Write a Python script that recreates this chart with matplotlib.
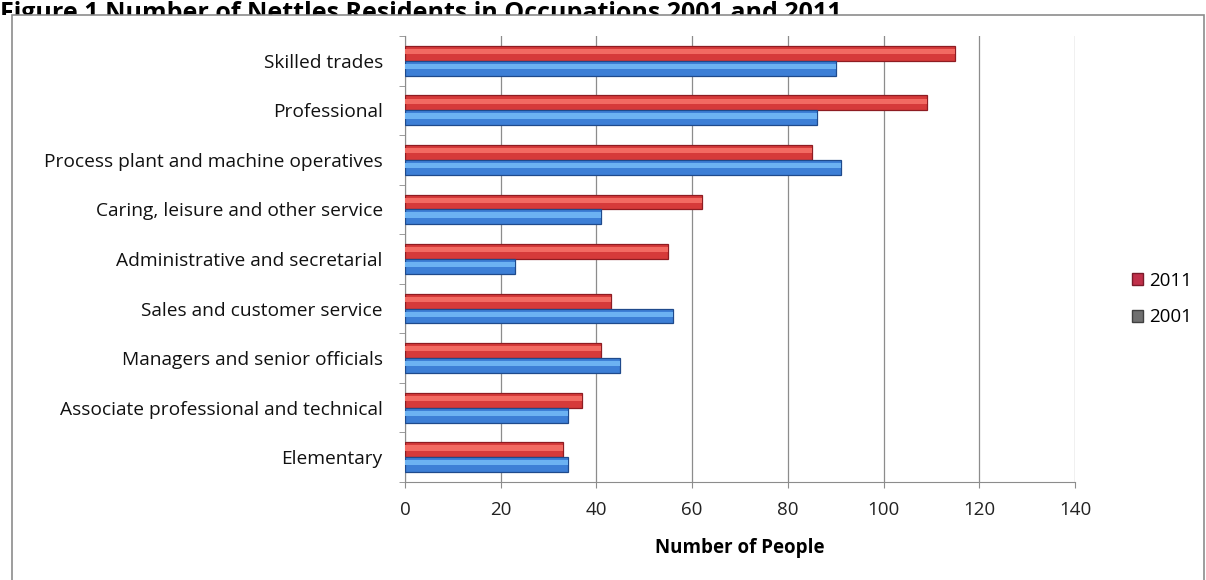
import numpy as np
from matplotlib import pyplot as plt
from matplotlib.patches import Rectangle, Patch

# Categories listed bottom to top
categories = ['Elementary',
              'Associate professional and technical',
              'Managers and senior officials',
              'Sales and customer service',
              'Administrative and secretarial',
              'Caring, leisure and other service',
              'Process plant and machine operatives',
              'Professional',
              'Skilled trades']
values_2011 = [33, 37, 41, 43, 55, 62, 85, 109, 115]
values_2001 = [34, 34, 45, 56, 23, 41, 91, 86, 90]
x_ticks = [0, 20, 40, 60, 80, 100, 120, 140]

plt.rcParams['font.family'] = ['Open Sans', 'DejaVu Sans']

W, H = 1206, 580
fig = plt.figure(figsize=(W / 100, H / 100), dpi=100)

# Title, cut off by the chart frame below it
fig.text(0.0, 1 - 20 / H, 'Figure 1 Number of Nettles Residents in Occupations 2001 and 2011',
         fontsize=18, fontweight='bold', ha='left', va='baseline', zorder=1)
mask = Rectangle((0, -0.05), 1, 1.05 - 15 / H, transform=fig.transFigure,
                 facecolor='white', edgecolor='none', zorder=2)
frame = Rectangle((12 / W, -0.05), 1192 / W, 1.05 - 15 / H, transform=fig.transFigure,
                  facecolor='white', edgecolor='#8c8c8c', linewidth=1.2, zorder=2.5)
fig.patches.extend([mask, frame])

ax = fig.add_axes([405 / W, 1 - 482 / H, 670 / W, 446 / H])
ax.set_zorder(3)
ax.patch.set_alpha(0)

y = np.arange(len(categories))
h = 0.3

# Red 2011 bars (upper), blue 2001 bars (lower), with a simple glossy highlight
ax.barh(y + h / 2, values_2011, height=h, color='#d63a3a', edgecolor='#8e1c22', linewidth=0.9,
        label='2011', zorder=3)
ax.barh(y + h / 2 + h * 0.12, values_2011, height=h * 0.35, color='#f26a62', linewidth=0, zorder=4)
ax.barh(y - h / 2, values_2001, height=h, color='#3d7fd6', edgecolor='#1f4a8c', linewidth=0.9,
        label='2001', zorder=3)
ax.barh(y - h / 2 + h * 0.12, values_2001, height=h * 0.35, color='#6cb2f2', linewidth=0, zorder=4)

ax.set_xlim(0, 140)
ax.set_ylim(-0.5, len(categories) - 0.5)
ax.set_xticks(x_ticks)
ax.set_xticklabels([str(v) for v in x_ticks], fontsize=13.5, color='#222222')
ax.set_yticks(y)
ax.set_yticklabels(categories, fontsize=13.8, color='#111111')
ax.tick_params(axis='y', length=0, pad=16)
ax.set_yticks(np.arange(len(categories) + 1) - 0.5, minor=True)
ax.tick_params(axis='y', which='minor', length=4, color='#8c8c8c', direction='out')
ax.tick_params(axis='x', length=4, color='#8c8c8c', direction='out', pad=10)

ax.grid(axis='x', color='#8c8c8c', linewidth=0.9, zorder=0)
ax.set_axisbelow(True)
for side in ['top', 'right']:
    ax.spines[side].set_visible(False)
ax.spines['left'].set_color('#8c8c8c')
ax.spines['bottom'].set_color('#8c8c8c')

ax.set_xlabel('Number of People', fontsize=13.5, fontweight='bold', labelpad=13)

# Legend (the 2001 swatch is grey in the original)
handles = [Patch(facecolor='#c0304a', edgecolor='#7a1a2a', label='2011'),
           Patch(facecolor='#707070', edgecolor='#404040', label='2001')]
ax.legend(handles=handles, loc='center left', bbox_to_anchor=(1.06, 1 - (299 - 36) / 446),
          frameon=False, fontsize=13.5, handlelength=0.6, handleheight=0.6,
          handletextpad=0.3, labelspacing=1.0)

fig.savefig('out.png', dpi=100)
